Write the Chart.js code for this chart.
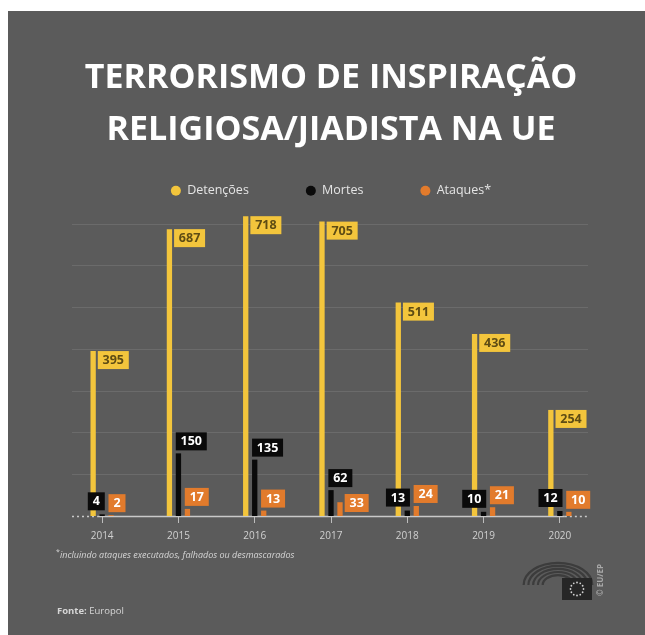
<!DOCTYPE html>
<html>
<head>
<meta charset="utf-8">
<script src="https://cdn.jsdelivr.net/npm/chart.js@4"></script>
<style>
  html, body { margin: 0; padding: 0; background: #fff; }
  canvas { display: block; }
</style>
</head>
<body>
<canvas id="terrorChart" width="645" height="635"></canvas>
<script>
//----------------------
// Data
//----------------------

const years = ['2014', '2015', '2016', '2017', '2018', '2019', '2020'];
const detencoes = [395, 687, 718, 705, 511, 436, 254];
const mortes = [4, 150, 135, 62, 13, 10, 12];
const ataques = [2, 17, 13, 33, 24, 21, 10];
const seriesNames = ['Detenções', 'Mortes', 'Ataques*'];

const FONT = '"Open Sans", "DejaVu Sans", sans-serif';
const YELLOW = '#f3c53c';
const BLACK = '#0a0a0a';
const ORANGE = '#e27b2c';

//----------------------
// Plugins
//----------------------

// grey panel behind everything
const panel = {
    id: 'panel',
    beforeDraw(chart) {
        const ctx = chart.ctx;
        ctx.save();
        ctx.fillStyle = '#ffffff';
        ctx.fillRect(0, 0, chart.width, chart.height);
        ctx.fillStyle = '#5b5b5b';
        ctx.fillRect(8, 11, chart.width - 8, chart.height - 11);
        ctx.restore();
    }
};

// horizontal grid + baseline (dotted at the ends)
const gridLines = {
    id: 'gridLines',
    beforeDatasetsDraw(chart) {
        const ctx = chart.ctx;
        const y = chart.scales.y;
        const x = chart.scales.x;
        const left = chart.chartArea.left + 8;
        const right = chart.chartArea.right - 10;
        ctx.save();
        ctx.strokeStyle = '#6b6b6b';
        ctx.lineWidth = 1;
        y.ticks.forEach(t => {
            if (t.value <= 0 || t.value % 100 !== 0) return;
            const py = Math.round(y.getPixelForValue(t.value)) + 0.5;
            ctx.beginPath();
            ctx.moveTo(left, py);
            ctx.lineTo(right, py);
            ctx.stroke();
        });
        const base = y.getPixelForValue(0) + 0.5;
        const first = x.getPixelForValue(0) - 5;
        const last = x.getPixelForValue(years.length - 1) + 5;
        ctx.strokeStyle = '#c9c9c9';
        ctx.lineWidth = 1.5;
        ctx.beginPath();
        ctx.moveTo(first, base);
        ctx.lineTo(last, base);
        ctx.stroke();
        ctx.setLineDash([2, 3]);
        ctx.beginPath();
        ctx.moveTo(left, base);
        ctx.lineTo(first, base);
        ctx.moveTo(last, base);
        ctx.lineTo(right, base);
        ctx.stroke();
        ctx.restore();
    }
};

function overlaps(a, b) {
    return a && b && a.x < b.x + b.w && b.x < a.x + a.w && a.y < b.y + b.h && b.y < a.y + a.h;
}

// value boxes next to the bars
const valueBoxes = {
    id: 'valueBoxes',
    afterDatasetsDraw(chart) {
        const ctx = chart.ctx;
        ctx.save();
        ctx.font = 'bold 12.5px ' + FONT;
        ctx.textAlign = 'center';
        ctx.textBaseline = 'middle';
        const blackBoxes = [];
        chart.data.datasets.forEach((ds, di) => {
            const meta = chart.getDatasetMeta(di);
            meta.data.forEach((bar, i) => {
                const v = ds.data[i];
                const txt = String(v);
                const w = Math.round(ctx.measureText(txt).width) + 10;
                const h = 18;
                const left = bar.x - bar.width / 2;
                const right = bar.x + bar.width / 2;
                let box;
                if (di === 0) {
                    box = { x: right + 2, y: bar.y, w, h };
                } else if (di === 1) {
                    if (v >= 30) box = { x: left, y: bar.y - 3 - h, w, h };
                    else box = { x: right - w, y: bar.y - 4 - h, w, h };
                    blackBoxes[i] = box;
                } else {
                    box = { x: left, y: bar.y - 3 - h, w, h };
                    if (overlaps(box, blackBoxes[i])) {
                        box = { x: right + 2, y: bar.base - 4 - h, w, h };
                    }
                }
                ctx.fillStyle = ds.backgroundColor;
                ctx.fillRect(box.x, box.y, box.w, box.h);
                ctx.fillStyle = di === 0 ? '#5e4c14' : '#ffffff';
                ctx.fillText(txt, box.x + box.w / 2, box.y + box.h / 2 + 0.5);
            });
        });
        ctx.restore();
    }
};

// footnote, source and EP logo
const footer = {
    id: 'footer',
    afterDraw(chart) {
        const ctx = chart.ctx;
        ctx.save();
        ctx.fillStyle = '#d6d6d6';
        ctx.textBaseline = 'middle';
        ctx.font = '7px ' + FONT;
        ctx.fillText('*', 56, 552);
        ctx.font = 'italic 9px ' + FONT;
        ctx.fillText('incluindo ataques executados, falhados ou desmascarados', 60, 555);

        ctx.font = 'bold 9.5px ' + FONT;
        ctx.fillText('Fonte:', 57, 611);
        const fw = ctx.measureText('Fonte: ').width;
        ctx.font = '9.5px ' + FONT;
        ctx.fillText('Europol', 57 + fw, 611);

        // hemicycle
        ctx.strokeStyle = '#3c3c3c';
        ctx.lineWidth = 2.2;
        for (let k = 0; k < 5; k++) {
            const s = 0.45 + k * 0.14;
            ctx.beginPath();
            ctx.ellipse(558, 585, 34 * s, 22 * s, 0, Math.PI, 2 * Math.PI);
            ctx.stroke();
        }
        // flag
        ctx.fillStyle = '#262626';
        ctx.fillRect(562, 578, 30, 22);
        ctx.fillStyle = '#d0d0d0';
        for (let k = 0; k < 12; k++) {
            const a = k * Math.PI / 6;
            ctx.beginPath();
            ctx.arc(577 + 6.5 * Math.cos(a), 589 + 6.5 * Math.sin(a), 0.9, 0, 2 * Math.PI);
            ctx.fill();
        }
        ctx.translate(601, 580);
        ctx.rotate(-Math.PI / 2);
        ctx.textAlign = 'center';
        ctx.fillStyle = '#a8a8a8';
        ctx.font = 'bold 8px ' + FONT;
        ctx.fillText('© EU/EP', 0, 0);
        ctx.restore();
    }
};

//----------------------
// Chart
//----------------------

const ctx = document.getElementById('terrorChart').getContext('2d');
const chart = new Chart(ctx, {
    type: 'bar',
    data: {
        labels: years,
        datasets: [
            { label: seriesNames[0], data: detencoes, backgroundColor: YELLOW },
            { label: seriesNames[1], data: mortes, backgroundColor: BLACK },
            { label: seriesNames[2], data: ataques, backgroundColor: ORANGE }
        ]
    },
    options: {
        responsive: false,
        animation: false,
        devicePixelRatio: 1,
        barPercentage: 0.59,
        categoryPercentage: 0.354,
        layout: { padding: { top: 11, left: 64, right: 47, bottom: 86 } },
        scales: {
            x: {
                grid: { display: true, drawOnChartArea: false, drawTicks: true, tickLength: 7, offset: false, color: '#bdbdbd' },
                border: { display: false },
                ticks: { color: '#d0d0d0', padding: 7, font: { family: FONT, size: 10 } }
            },
            y: {
                display: false,
                min: 0,
                max: 740,
                ticks: { stepSize: 100 }
            }
        },
        plugins: {
            tooltip: { enabled: false },
            title: {
                display: true,
                text: ['TERRORISMO DE INSPIRAÇÃO', 'RELIGIOSA/JIADISTA NA UE'],
                color: '#ffffff',
                font: { family: FONT, size: 34, weight: 'bold', lineHeight: 52 / 34 },
                padding: { top: 41, bottom: -28.5 }
            },
            legend: {
                labels: {
                    color: '#e4e4e4',
                    usePointStyle: true,
                    pointStyle: 'circle',
                    pointStyleWidth: 10,
                    boxHeight: 7,
                    padding: 57,
                    font: { family: FONT, size: 12.5 }
                }
            }
        }
    },
    plugins: [panel, gridLines, valueBoxes, footer]
});
</script>
</body>
</html>
